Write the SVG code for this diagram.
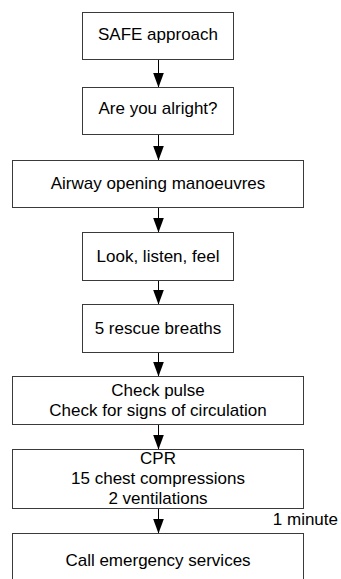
<svg xmlns="http://www.w3.org/2000/svg" width="341" height="579" viewBox="0 0 341 579">
<style>
.box{fill:#fff;stroke:#3a3a3a;stroke-width:1}
.t{font-family:"Liberation Sans",Arial,sans-serif;font-size:17px;fill:#000;text-anchor:middle}
.c{stroke:#000;stroke-width:1;fill:none;marker-end:url(#ah)}
</style>
<defs>
<marker id="ah" markerUnits="userSpaceOnUse" viewBox="0 -5.5 15 11" refX="15" refY="0" markerWidth="15" markerHeight="11" orient="auto">
<path d="M0,-5.5 L15,0 L0,5.5 z" fill="#000"/>
</marker>
</defs>
<rect width="341" height="579" fill="#fff"/>
<g id="connectors">
<line class="c" x1="158.5" y1="59.5" x2="158.5" y2="87.5"/>
<line class="c" x1="158.5" y1="134.5" x2="158.5" y2="160.5"/>
<line class="c" x1="158.5" y1="207.5" x2="158.5" y2="232.5"/>
<line class="c" x1="158.5" y1="280.5" x2="158.5" y2="304.5"/>
<line class="c" x1="158.5" y1="352.5" x2="158.5" y2="376.5"/>
<line class="c" x1="158.5" y1="424.5" x2="158.5" y2="449.5"/>
<line class="c" x1="158.5" y1="508.5" x2="158.5" y2="533.5"/>
<text class="t" x="338" y="525" style="text-anchor:end">1 minute</text>
</g>
<g id="n1"><rect class="box" x="82.5" y="12.5" width="151" height="47"/><text class="t" x="158" y="40">SAFE approach</text></g>
<g id="n2"><rect class="box" x="82.5" y="87.5" width="151" height="47"/><text class="t" x="158" y="113.5">Are you alright?</text></g>
<g id="n3"><rect class="box" x="12.5" y="160.5" width="291" height="47"/><text class="t" x="158" y="188.5">Airway opening manoeuvres</text></g>
<g id="n4"><rect class="box" x="82.5" y="232.5" width="151" height="48"/><text class="t" x="158" y="262">Look, listen, feel</text></g>
<g id="n5"><rect class="box" x="82.5" y="304.5" width="151" height="48"/><text class="t" x="158" y="333.5">5 rescue breaths</text></g>
<g id="n6"><rect class="box" x="12.5" y="376.5" width="291" height="48"/><text class="t" x="158" y="395.5">Check pulse</text><text class="t" x="158" y="415.5">Check for signs of circulation</text></g>
<g id="n7"><rect class="box" x="12.5" y="449.5" width="291" height="59"/><text class="t" x="158" y="463.5">CPR</text><text class="t" x="158" y="483.5">15 chest compressions</text><text class="t" x="158" y="503.5">2 ventilations</text></g>
<g id="n8"><rect class="box" x="12.5" y="533.5" width="291" height="60"/><text class="t" x="158" y="565.5">Call emergency services</text></g>
</svg>
